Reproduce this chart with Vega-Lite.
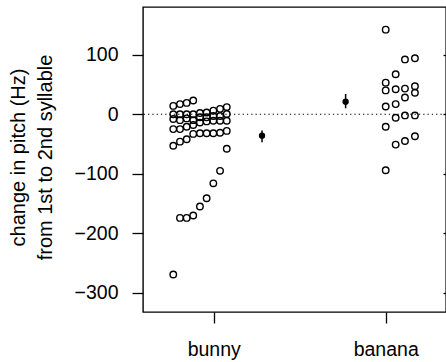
{
  "$schema": "https://vega.github.io/schema/vega-lite/v6.json",
  "width": 303,
  "height": 305,
  "autosize": {"type": "none"},
  "padding": {"left": 143, "top": 7, "right": 0, "bottom": 50},
  "background": "white",
  "config": {
    "font": "Liberation Sans",
    "view": {"stroke": "black", "strokeWidth": 1.4},
    "axis": {"grid": false, "domain": false, "tickColor": "black", "tickWidth": 1.3, "tickSize": 11, "labelColor": "black", "labelFontSize": 19.5, "titleColor": "black", "titleFontWeight": "normal"}
  },
  "datasets": {
    "points": [
      {"word": "bunny", "x": 0.765, "change": 14}, {"word": "bunny", "x": 0.765, "change": 0}, {"word": "bunny", "x": 0.765, "change": -8}, {"word": "bunny", "x": 0.765, "change": -25}, {"word": "bunny", "x": 0.765, "change": -53}, {"word": "bunny", "x": 0.765, "change": -269},
      {"word": "bunny", "x": 0.804, "change": 17}, {"word": "bunny", "x": 0.804, "change": 0}, {"word": "bunny", "x": 0.804, "change": -10}, {"word": "bunny", "x": 0.804, "change": -25}, {"word": "bunny", "x": 0.804, "change": -46}, {"word": "bunny", "x": 0.804, "change": -174},
      {"word": "bunny", "x": 0.843, "change": 19}, {"word": "bunny", "x": 0.843, "change": 0}, {"word": "bunny", "x": 0.843, "change": -7}, {"word": "bunny", "x": 0.843, "change": -21}, {"word": "bunny", "x": 0.843, "change": -42}, {"word": "bunny", "x": 0.843, "change": -174},
      {"word": "bunny", "x": 0.881, "change": 23}, {"word": "bunny", "x": 0.881, "change": 0}, {"word": "bunny", "x": 0.881, "change": -10}, {"word": "bunny", "x": 0.881, "change": -18}, {"word": "bunny", "x": 0.881, "change": -33}, {"word": "bunny", "x": 0.881, "change": -170},
      {"word": "bunny", "x": 0.92, "change": 2}, {"word": "bunny", "x": 0.92, "change": -5}, {"word": "bunny", "x": 0.92, "change": -14}, {"word": "bunny", "x": 0.92, "change": -32}, {"word": "bunny", "x": 0.92, "change": -155},
      {"word": "bunny", "x": 0.959, "change": 3}, {"word": "bunny", "x": 0.959, "change": -5}, {"word": "bunny", "x": 0.959, "change": -12}, {"word": "bunny", "x": 0.959, "change": -32}, {"word": "bunny", "x": 0.959, "change": -141},
      {"word": "bunny", "x": 0.998, "change": 6}, {"word": "bunny", "x": 0.998, "change": -3}, {"word": "bunny", "x": 0.998, "change": -11}, {"word": "bunny", "x": 0.998, "change": -32}, {"word": "bunny", "x": 0.998, "change": -116},
      {"word": "bunny", "x": 1.037, "change": 9}, {"word": "bunny", "x": 1.037, "change": -3}, {"word": "bunny", "x": 1.037, "change": -11}, {"word": "bunny", "x": 1.037, "change": -31}, {"word": "bunny", "x": 1.037, "change": -95},
      {"word": "bunny", "x": 1.076, "change": 12}, {"word": "bunny", "x": 1.076, "change": 0.5}, {"word": "bunny", "x": 1.076, "change": -11}, {"word": "bunny", "x": 1.076, "change": -28}, {"word": "bunny", "x": 1.076, "change": -58},
      {"word": "banana", "x": 2.0, "change": 142}, {"word": "banana", "x": 2.0, "change": 53}, {"word": "banana", "x": 2.0, "change": 40}, {"word": "banana", "x": 2.0, "change": 13}, {"word": "banana", "x": 2.0, "change": -21}, {"word": "banana", "x": 2.0, "change": -94},
      {"word": "banana", "x": 2.058, "change": 67}, {"word": "banana", "x": 2.058, "change": 42}, {"word": "banana", "x": 2.058, "change": 17}, {"word": "banana", "x": 2.058, "change": -6}, {"word": "banana", "x": 2.058, "change": -51},
      {"word": "banana", "x": 2.112, "change": 92}, {"word": "banana", "x": 2.112, "change": 43}, {"word": "banana", "x": 2.112, "change": 28}, {"word": "banana", "x": 2.112, "change": -2}, {"word": "banana", "x": 2.112, "change": -45},
      {"word": "banana", "x": 2.17, "change": 94}, {"word": "banana", "x": 2.17, "change": 47}, {"word": "banana", "x": 2.17, "change": 36}, {"word": "banana", "x": 2.17, "change": -2}, {"word": "banana", "x": 2.17, "change": -37}
    ],
    "means": [
      {"word": "bunny", "x": 1.281, "mean": -36, "lo": -47, "hi": -27.5},
      {"word": "banana", "x": 1.767, "mean": 21, "lo": 10, "hi": 34}
    ]
  },
  "layer": [
    {
      "data": {"values": [{"zero": 0}]},
      "mark": {"type": "rule", "color": "black", "strokeWidth": 1.2, "strokeDash": [1.3, 3]},
      "encoding": {"y": {"field": "zero", "type": "quantitative", "axis": null}}
    },
    {
      "data": {"name": "points"},
      "mark": {"type": "point", "shape": "circle", "filled": false, "stroke": "black", "strokeWidth": 1.4, "size": 42, "opacity": 1},
      "encoding": {
        "x": {"field": "x", "type": "quantitative", "scale": {"domain": [0.589, 2.3506], "nice": false, "zero": false},
          "axis": {"values": [1, 2], "labelExpr": "datum.value < 1.5 ? 'bunny' : 'banana'", "title": null, "labelPadding": 17}},
        "y": {"field": "change", "type": "quantitative", "scale": {"domain": [-332, 180], "nice": false, "zero": false},
          "axis": {"values": [100, 0, -100, -200, -300], "labelPadding": 14, "title": ["change in pitch (Hz)", "from 1st to 2nd syllable"], "titleFontSize": 20, "titleLineHeight": 27, "titleAngle": -90, "titleAlign": "center", "titleBaseline": "middle", "titleX": -125, "titleY": 150}}
      }
    },
    {
      "data": {"name": "means"},
      "mark": {"type": "rule", "color": "black", "strokeWidth": 1.5},
      "encoding": {
        "x": {"field": "x", "type": "quantitative"},
        "y": {"field": "lo", "type": "quantitative", "axis": {"orient": "right", "values": [100, 0, -100, -200, -300], "labels": false, "tickSize": -3, "title": null}},
        "y2": {"field": "hi"}
      }
    },
    {
      "data": {"name": "means"},
      "mark": {"type": "point", "shape": "circle", "filled": true, "color": "black", "size": 40, "opacity": 1},
      "encoding": {
        "x": {"field": "x", "type": "quantitative"},
        "y": {"field": "mean", "type": "quantitative", "axis": null}
      }
    }
  ],
  "resolve": {"axis": {"y": "independent"}}
}
